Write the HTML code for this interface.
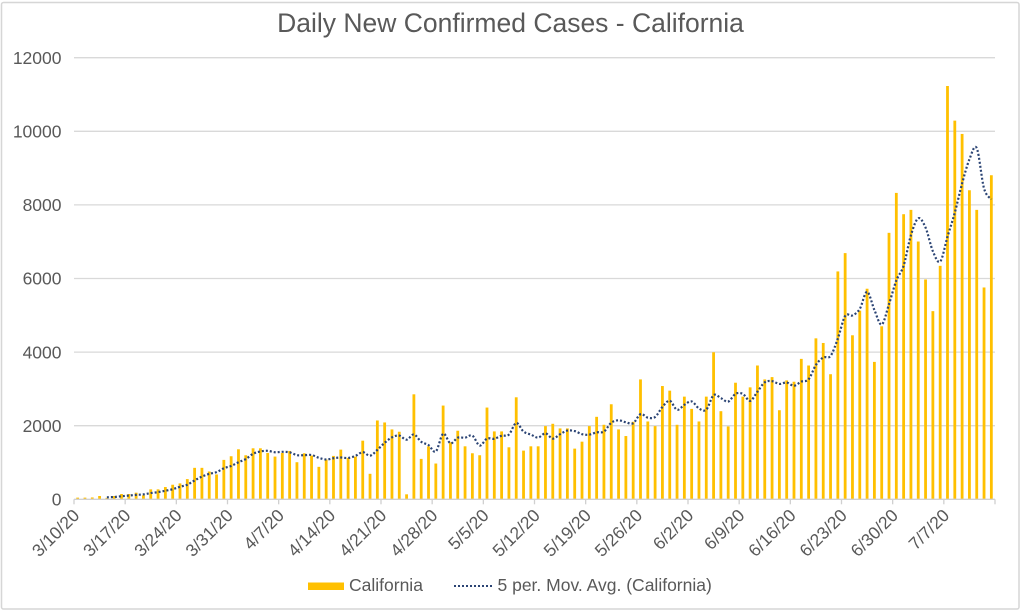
<!DOCTYPE html>
<html>
<head>
<meta charset="utf-8">
<style>
  html,body{margin:0;padding:0;background:#fff;overflow:hidden;}
  svg{display:block;}
  text{font-family:"Liberation Sans",Arial,Helvetica,sans-serif;fill:#595959;}
</style>
</head>
<body>
<svg id="c" width="1023" height="611" viewBox="0 0 1023 611" xmlns="http://www.w3.org/2000/svg">
  <rect x="0" y="0" width="1023" height="611" fill="#ffffff"/>
  <rect x="1.5" y="2.5" width="1017.5" height="606.5" rx="2" ry="2" fill="#ffffff" stroke="#d6d6d6" stroke-width="1.5"/>
  <text x="510.5" y="32" font-size="26.5" text-anchor="middle">Daily New Confirmed Cases - California</text>
  <g id="grid"></g>
  <g id="ylabels" font-size="17.5" text-anchor="end"></g>
  <g id="bars" fill="#FFC000"></g>
  <path id="ma" d="" fill="none" stroke="#2B4474" stroke-width="2.2" stroke-dasharray="2 2"/>
  <g id="axis"></g>
  <g id="xlabels" font-size="17.5" text-anchor="end"></g>
  <!-- legend -->
  <rect x="308" y="582.5" width="36" height="7.5" fill="#FFC000"/>
  <text x="349" y="591" font-size="17.5">California</text>
  <line x1="454" y1="586" x2="493" y2="586" stroke="#2B4474" stroke-width="2" stroke-dasharray="2 2"/>
  <text x="497.5" y="591" font-size="17.5">5 per. Mov. Avg. (California)</text>
</svg>
<script>
(function(){
  var NS="http://www.w3.org/2000/svg";
  var vals=[45,45,50,90,40,90,144,144,180,108,270,270,333,396,432,549,855,855,756,675,
  1071,1170,1359,1197,1386,1386,1260,1161,1260,1314,1008,1251,1188,882,1080,1179,1350,1125,1161,1593,
  693,2142,2088,1899,1836,135,2853,1098,1440,972,2547,1548,1863,1440,1251,1197,2493,1845,1845,1413,
  2772,1323,1440,1440,1989,2052,1926,1926,1377,1566,1989,2241,2025,2583,1899,1719,2106,3258,2115,1989,
  3078,2952,2025,2790,2457,2115,2790,3996,2394,1980,3168,2790,3042,3636,3258,3321,2421,3231,3195,3816,
  3636,4374,4248,3399,6192,6690,4457,5126,5722,3734,4701,7241,8326,7747,7865,7005,5973,5113,6344,11231,
  10290,9928,8398,7865,5756,8806];
  var x0=74, x1=995, n=vals.length, cw=(x1-x0)/n;
  var base=499.3, per=73.6/2000;
  function Y(v){return base-v*per;}
  function el(tag,attrs,parent,txt){var e=document.createElementNS(NS,tag);for(var k in attrs)e.setAttribute(k,attrs[k]);if(txt!==undefined)e.textContent=txt;parent.appendChild(e);return e;}
  var grid=document.getElementById('grid'), yl=document.getElementById('ylabels');
  for(var g=0;g<=12000;g+=2000){
    var y=Y(g);
    if(g>0) el('line',{x1:x0,y1:y,x2:x1,y2:y,stroke:'#d9d9d9','stroke-width':1.3},grid);
    el('text',{x:61.5,y:y+6.2},yl,String(g));
  }
  var bars=document.getElementById('bars');
  var bw=2.8;
  for(var i=0;i<n;i++){
    var cx=x0+cw*(i+0.5), yy=Y(vals[i]);
    el('rect',{x:(cx-bw/2).toFixed(2),y:yy.toFixed(2),width:bw,height:(base-yy).toFixed(2)},bars);
  }
  // moving average
  var pts=[];
  for(var i=4;i<n;i++){
    var s=0;for(var j=i-4;j<=i;j++)s+=vals[j];
    pts.push([x0+cw*(i+0.5),Y(s/5)]);
  }
  var d='M'+pts[0][0].toFixed(2)+','+pts[0][1].toFixed(2);
  for(var i=0;i<pts.length-1;i++){
    var p0=pts[i>0?i-1:i],p1=pts[i],p2=pts[i+1],p3=pts[i+2<pts.length?i+2:i+1];
    var c1x=p1[0]+(p2[0]-p0[0])/6,c1y=p1[1]+(p2[1]-p0[1])/6;
    var c2x=p2[0]-(p3[0]-p1[0])/6,c2y=p2[1]-(p3[1]-p1[1])/6;
    d+=' C'+c1x.toFixed(2)+','+c1y.toFixed(2)+' '+c2x.toFixed(2)+','+c2y.toFixed(2)+' '+p2[0].toFixed(2)+','+p2[1].toFixed(2);
  }
  document.getElementById('ma').setAttribute('d',d);
  // axis
  var ax=document.getElementById('axis');
  el('line',{x1:x0,y1:base,x2:x1,y2:base,stroke:'#d0d0d0','stroke-width':1.4},ax);
  var labels=['3/10/20','3/17/20','3/24/20','3/31/20','4/7/20','4/14/20','4/21/20','4/28/20','5/5/20','5/12/20','5/19/20','5/26/20','6/2/20','6/9/20','6/16/20','6/23/20','6/30/20','7/7/20'];
  var xl=document.getElementById('xlabels');
  for(var k=0;k<=18;k++){
    var tx=x0+cw*7*k;
    el('line',{x1:tx,y1:base,x2:tx,y2:base+5,stroke:'#d0d0d0','stroke-width':1.3},ax);
    if(k<labels.length){
      var axp=tx+6.5, ayp=516.5;
      el('text',{x:axp.toFixed(2),y:ayp,transform:'rotate(-45 '+axp.toFixed(2)+' '+ayp+')'},xl,labels[k]);
    }
  }
})();
</script>
</body>
</html>
